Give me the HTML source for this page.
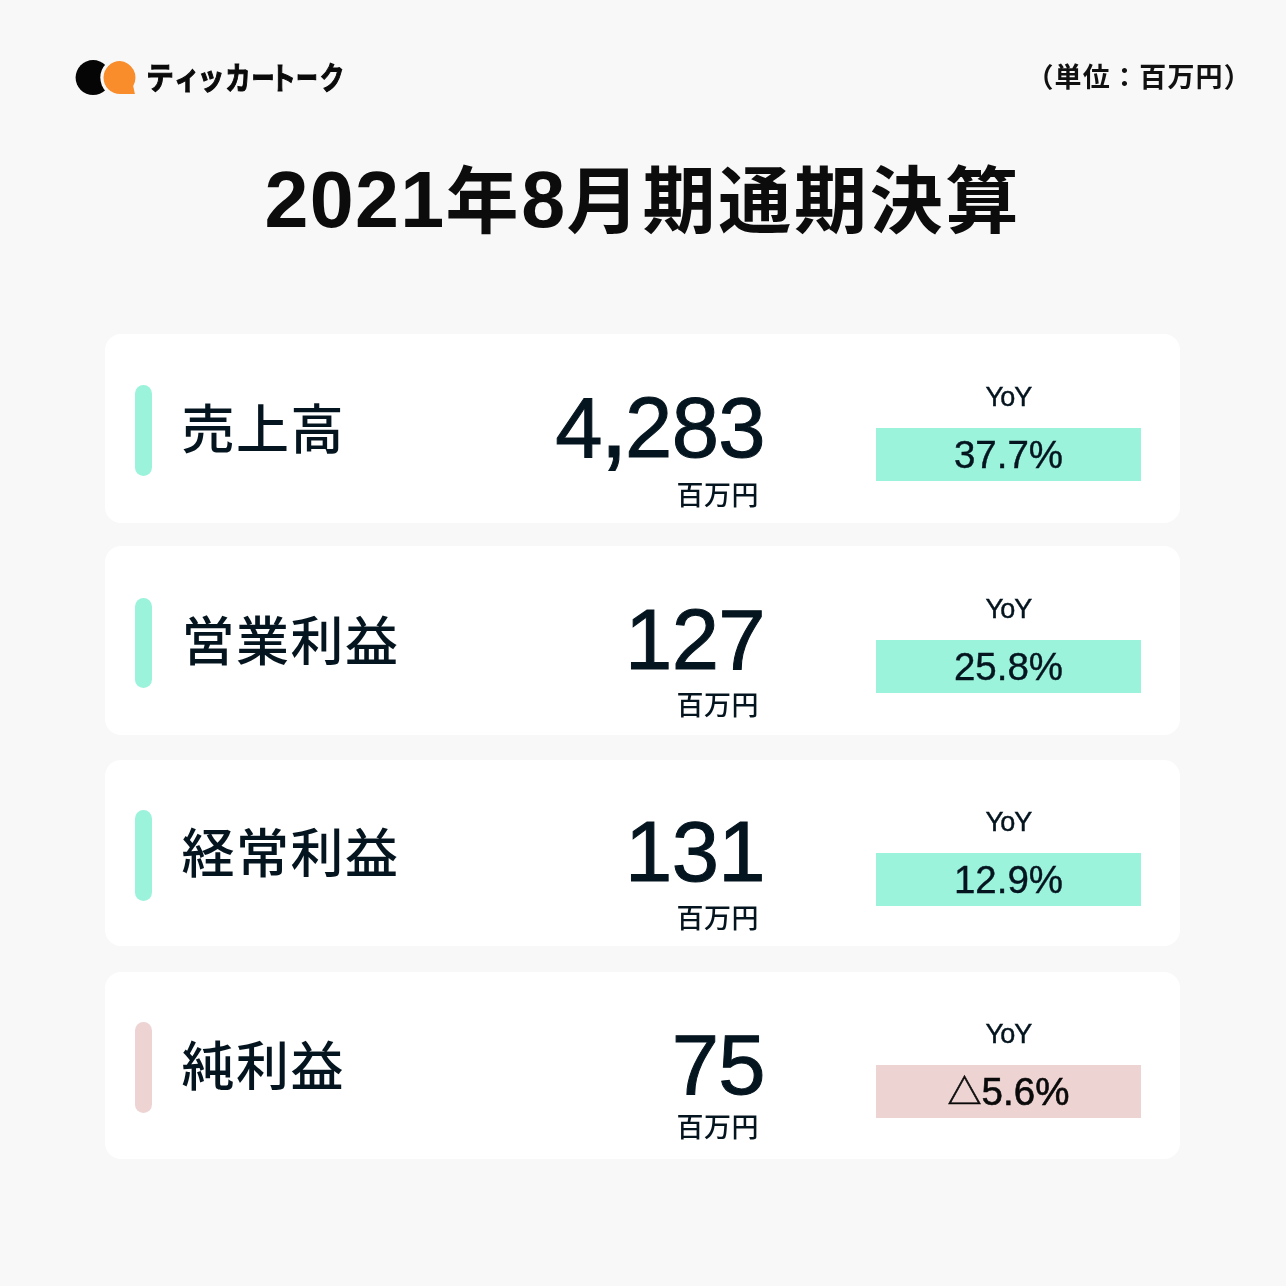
<!DOCTYPE html>
<html lang="ja">
<head>
<meta charset="utf-8">
<title>2021年8月期通期決算</title>
<style>
*{margin:0;padding:0;box-sizing:border-box}
html,body{width:1286px;height:1286px;overflow:hidden}
body{background:#f8f8f8;font-family:"Liberation Sans","Noto Sans CJK JP",sans-serif;color:#05151f;position:relative}
.abs{position:absolute;white-space:nowrap;line-height:1}
.logo{left:70px;top:55px;width:80px;height:46px}
.brand{left:0;top:63.4px;width:400px;height:31.0px;font-size:31.0px;font-weight:700;color:#0a0a0a;-webkit-text-stroke:1.1px #0a0a0a}
.brand span{position:absolute;top:0;transform-origin:50% 50%}
.unit{right:34px;top:65px;font-size:27px;letter-spacing:1.2px;font-weight:700;color:#111}
.title{left:0;width:1286px;text-align:center;top:160px;font-size:73px;letter-spacing:2.8px;font-weight:700;color:#0c0c0c}
.title span{font-size:79px;letter-spacing:1.3px;vertical-align:-.5px}
.row{position:absolute;left:105px;width:1076px;height:188px}
.bg{position:absolute;left:0;width:1075px;background:#fff;border-radius:16px}
.bar{position:absolute;left:30px;top:51.3px;width:17.2px;height:90.8px;border-radius:9px;background:#9cf3dc}
.bar.neg{background:#edd3d2}
.label{left:76.5px;top:69.8px;font-size:53px;letter-spacing:1.5px;font-weight:500}
.num{right:416px;top:50.5px;font-size:85px;letter-spacing:-.6px;font-weight:400;-webkit-text-stroke:1px #05151f}
.cm{font-size:104px;line-height:0;margin:0 -2.9px 0 -2.4px}
.sub{right:422px;font-size:27px;font-weight:500;letter-spacing:.5px}
.yoy{left:771px;width:265px;text-align:center;top:50px;font-size:27px;font-weight:400;letter-spacing:-.9px;-webkit-text-stroke:.45px #05151f}
.box{position:absolute;left:771px;top:94px;width:265px;height:53px;background:#9cf3dc;text-align:center;font-size:38.5px;line-height:53px;white-space:nowrap;-webkit-text-stroke:.4px #05151f}
.tri{font-size:34px;vertical-align:1.5px}
.box.neg{background:#edd3d2;color:#0a0a0a;-webkit-text-stroke:.6px #0a0a0a}
</style>
</head>
<body>
<svg class="abs logo" viewBox="70 55 80 46">
  <circle cx="93.1" cy="77.6" r="17.5" fill="#050505"/>
  <circle cx="120" cy="77.6" r="19.7" fill="#f8f8f8"/>
  <path d="M120 61.1a16.5 16.5 0 1 0 0 33h14.9l-1.7-8.2a16.5 16.5 0 0 0 -13.2 -24.8z" fill="#f98d2b"/>
</svg>
<div class="abs brand"><span style="left:160.10px;transform:translateX(-50%) scaleX(0.889)">テ</span><span style="left:187.22px;transform:translateX(-50%) scaleX(0.820)">ィ</span><span style="left:210.70px;transform:translateX(-50%) scaleX(0.883)">ッ</span><span style="left:238.1px;transform:translateX(-50%) scaleX(0.820)">カ</span><span style="left:263.00px;transform:translateX(-50%) scaleX(0.743)">ー</span><span style="left:282.73px;transform:translateX(-50%) scaleX(0.829)">ト</span><span style="left:307.20px;transform:translateX(-50%) scaleX(0.705)">ー</span><span style="left:332.48px;transform:translateX(-50%) scaleX(0.795)">ク</span></div>
<div class="abs unit">（単位：百万円）</div>
<div class="abs title"><span>2021</span>年<span>8</span>月期通期決算</div>

<div class="row" style="top:334px">
  <div class="bg" style="top:0.3px;height:189.1px"></div>
  <div class="bar"></div>
  <div class="abs label">売上高</div>
  <div class="abs num">4<span class="cm">,</span>283</div>
  <div class="abs sub" style="top:149.3px">百万円</div>
  <div class="abs yoy">YoY</div>
  <div class="box">37.7%</div>
</div>
<div class="row" style="top:546.4px">
  <div class="bg" style="top:0.0px;height:188.2px"></div>
  <div class="bar"></div>
  <div class="abs label">営業利益</div>
  <div class="abs num">127</div>
  <div class="abs sub" style="top:146.7px">百万円</div>
  <div class="abs yoy">YoY</div>
  <div class="box">25.8%</div>
</div>
<div class="row" style="top:758.5px">
  <div class="bg" style="top:1.3px;height:186.4px"></div>
  <div class="bar"></div>
  <div class="abs label">経常利益</div>
  <div class="abs num">131</div>
  <div class="abs sub" style="top:147.3px">百万円</div>
  <div class="abs yoy">YoY</div>
  <div class="box">12.9%</div>
</div>
<div class="row" style="top:971.2px">
  <div class="bg" style="top:1.1px;height:186.6px"></div>
  <div class="bar neg"></div>
  <div class="abs label">純利益</div>
  <div class="abs num">75</div>
  <div class="abs sub" style="top:144.2px">百万円</div>
  <div class="abs yoy">YoY</div>
  <div class="box neg"><span class="tri">△</span>5.6%</div>
</div>
</body>
</html>
